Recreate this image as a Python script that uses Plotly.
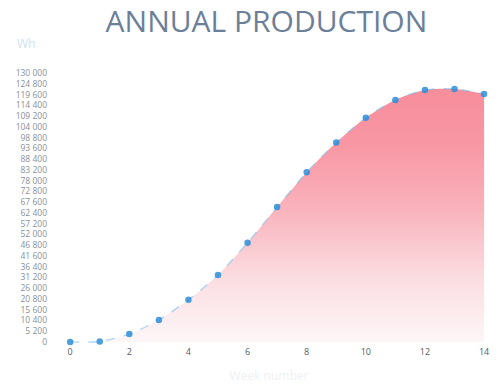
import plotly.graph_objects as go

# Weekly cumulative production (Wh)
weeks = list(range(15))
production = [0, 200, 3800, 10600, 20400, 32400, 48000, 65200, 82000,
              96400, 108400, 117000, 121800, 122300, 119900]

# Y tick values every 5 200 Wh, labelled with a space as thousands separator
y_ticks = [i * 5200 for i in range(26)]
y_labels = [f"{v:,}".replace(",", " ") for v in y_ticks]
x_ticks = [0, 2, 4, 6, 8, 10, 12, 14]

fig = go.Figure()

fig.add_trace(go.Scatter(
    x=weeks,
    y=production,
    mode="lines+markers",
    line=dict(shape="spline", smoothing=0.8, color="rgba(120,188,238,0.6)",
              width=1.3, dash="dash"),
    marker=dict(size=6.5, color="rgba(46,142,216,0.85)"),
    fill="tozeroy",
    fillgradient=dict(
        type="vertical",
        start=0,
        stop=122000,
        colorscale=[[0.0, "rgba(253,247,248,1)"],
                     [0.25, "rgba(251,222,226,1)"],
                     [0.55, "rgba(249,176,186,1)"],
                     [0.8, "rgba(248,150,163,1)"],
                     [1.0, "rgba(247,142,156,1)"]],
    ),
    cliponaxis=False,
    hoverinfo="x+y",
))

fig.update_layout(
    width=498,
    height=388,
    paper_bgcolor="white",
    plot_bgcolor="white",
    margin=dict(l=48, r=8, t=71, b=41),
    showlegend=False,
    title=dict(
        text="ANNUAL PRODUCTION",
        x=0.535, xanchor="center",
        y=0.945, yanchor="middle",
        font=dict(family="Open Sans", size=30, color="#6c7f99"),
    ),
    xaxis=dict(
        range=[-0.75, 14.2],
        tickvals=x_ticks,
        showgrid=False,
        zeroline=False,
        showline=False,
        ticks="",
        tickfont=dict(family="Open Sans", size=9, color="#555b66"),
        title=dict(text="Week number", standoff=14,
                   font=dict(family="Open Sans", size=12, color="#eef1f5")),
    ),
    yaxis=dict(
        range=[-1500, 131000],
        tickvals=y_ticks,
        ticktext=y_labels,
        showgrid=False,
        zeroline=False,
        showline=False,
        ticks="",
        tickfont=dict(family="Open Sans", size=8.5, color="#8a8f99"),
    ),
    annotations=[dict(
        text="Wh", xref="paper", yref="paper", x=-0.075, y=1.1,
        xanchor="left", yanchor="middle", showarrow=False,
        font=dict(family="Open Sans", size=12, color="#cfe2f6"),
    )],
)

fig.write_html("out.html")
